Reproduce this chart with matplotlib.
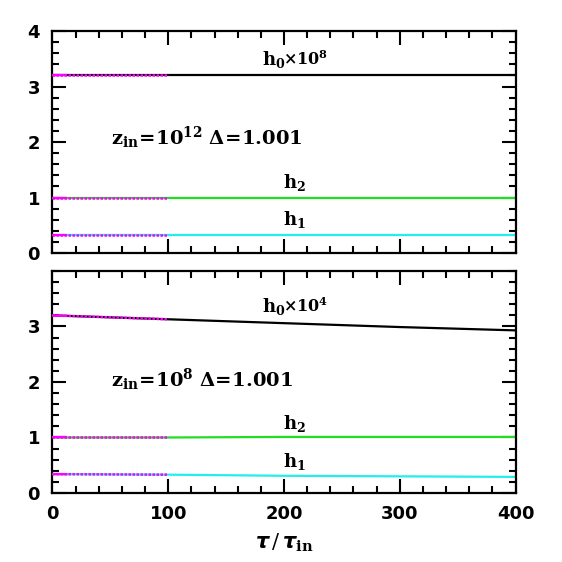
import matplotlib
matplotlib.use("Agg")
import matplotlib.pyplot as plt
from matplotlib.ticker import MultipleLocator

tau = [0, 100, 200, 300, 400]
# top panel (z_in = 1e12)
top_h0 = [3.20, 3.20, 3.20, 3.20, 3.20]
top_h2 = [1.00, 1.00, 1.00, 1.00, 1.00]
top_h1 = [0.33, 0.33, 0.33, 0.33, 0.33]
# bottom panel (z_in = 1e8)
bot_h0 = [3.20, 3.13, 3.06, 2.99, 2.93]
bot_h2 = [1.00, 1.00, 1.01, 1.01, 1.01]
bot_h1 = [0.34, 0.33, 0.31, 0.30, 0.29]

tau_early = [0, 100]

panels = [
    (top_h0, top_h2, top_h1, r"$\mathbf{h_0}$", r"$\mathbf{{\times}10^8}$", r"$\mathbf{z_{in}\!=\!10^{12}}$ $\mathbf{\Delta\!=\!1.001}$", True),
    (bot_h0, bot_h2, bot_h1, r"$\mathbf{h_0}$", r"$\mathbf{{\times}10^4}$", r"$\mathbf{z_{in}\!=\!10^{8}}$ $\mathbf{\Delta\!=\!1.001}$", False),
]

plt.rcParams['mathtext.fontset'] = 'custom'
plt.rcParams['mathtext.rm'] = 'DejaVu Serif'
plt.rcParams['mathtext.bf'] = 'DejaVu Serif:bold'
plt.rcParams['mathtext.it'] = 'DejaVu Sans:italic:bold'

fig = plt.figure(figsize=(5.62, 5.62), dpi=100)
L, W, H = 0.0934, 0.824, 0.395
ax_top = fig.add_axes([L, 0.5498, W, H])
ax_bot = fig.add_axes([L, 0.1228, W, H])

label_pos = {
    True: dict(h0y=3.39, zy=1.95, h2y=1.17, h1y=0.505),
    False: dict(h0y=3.27, zy=1.91, h2y=1.16, h1y=0.47),
}

for ax, (h0, h2, h1, h0a, h0b, zlab, is_top) in zip([ax_top, ax_bot], panels):
    for y, c in [(h0, 'black'), (h2, '#22dd22'), (h1, '#22eeee')]:
        ax.plot(tau, y, color=c, lw=1.6, solid_capstyle='butt', zorder=2)
        ye = y[:2]
        ax.plot(tau_early, ye, color='magenta', lw=1.8, ls=(0, (1, 0.6)), zorder=3)
        ax.plot([0, 12], [ye[0], ye[0] + (ye[1] - ye[0]) * 0.12], color='magenta', lw=1.6, zorder=3)
    ax.set_xlim(0, 400)
    ax.set_ylim(0, 4)
    ax.xaxis.set_major_locator(MultipleLocator(100))
    ax.xaxis.set_minor_locator(MultipleLocator(20))
    ax.yaxis.set_minor_locator(MultipleLocator(0.2))
    ax.tick_params(which='both', direction='in', top=True, right=True, width=1.5)
    ax.tick_params(which='major', length=10, pad=9)
    ax.tick_params(which='minor', length=5)
    for s in ax.spines.values():
        s.set_linewidth(1.6)
    p = label_pos[is_top]
    ax.text(181, p['h0y'], h0a, ha='left', va='baseline', fontsize=13)
    ax.text(199, p['h0y'], h0b, ha='left', va='baseline', fontsize=11.5)
    ax.text(50.5, p['zy'], zlab, ha='left', va='baseline', fontsize=14)
    ax.text(199, p['h2y'], r"$\mathbf{h_2}$", ha='left', va='baseline', fontsize=13)
    ax.text(199, p['h1y'], r"$\mathbf{h_1}$", ha='left', va='baseline', fontsize=13)

ax_top.tick_params(labelbottom=False)
ax_top.set_yticks([0, 1, 2, 3, 4])
ax_bot.set_yticks([0, 1, 2, 3])
for ax in (ax_top, ax_bot):
    ax.yaxis.set_minor_locator(MultipleLocator(0.2))
    for lab in ax.get_yticklabels() + ax.get_xticklabels():
        lab.set_fontfamily('DejaVu Sans')
        lab.set_fontweight('bold')
        lab.set_fontsize(13)
ax_bot.set_xlabel(r"$\mathit{\tau}\,/\,\mathit{\tau}_{\mathbf{in}}$", fontsize=15, labelpad=6)

fig.savefig("out.png", dpi=100)
